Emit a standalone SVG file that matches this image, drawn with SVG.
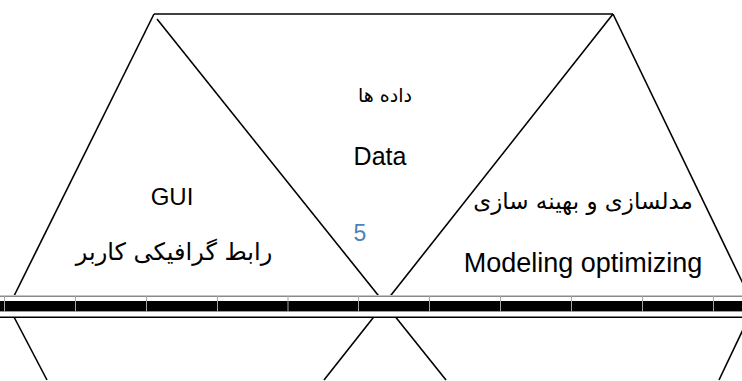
<svg xmlns="http://www.w3.org/2000/svg" width="742" height="381" viewBox="0 0 742 381">
<style>
.edge{stroke:#000;stroke-width:1.6;fill:none;stroke-linecap:butt}
.lat{font-family:"Liberation Sans",Arial,sans-serif;fill:#000}
.fa{font-family:"DejaVu Sans","Noto Sans",sans-serif;fill:#000}
.sep{stroke:#a6a6a6;stroke-width:1}
</style>
<rect width="742" height="381" fill="#fff"/>
<g id="connectors">
<line class="edge" x1="154" y1="14" x2="613" y2="14"/>
<line class="edge" x1="154" y1="14" x2="14" y2="296"/>
<line class="edge" x1="157" y1="19" x2="446" y2="380"/>
<line class="edge" x1="613" y1="14" x2="324" y2="380"/>
<line class="edge" x1="613" y1="14" x2="749" y2="296"/>
<line class="edge" x1="14" y1="317" x2="47" y2="380"/>
<line class="edge" x1="749" y1="317" x2="719" y2="380"/>
</g>
<g id="band">
<rect x="0" y="295" width="742" height="22" fill="#fff"/>
<line x1="0" y1="296.2" x2="742" y2="296.2" stroke="#8a8a8a" stroke-width="1.5"/>
<rect x="0" y="301" width="742" height="10" fill="#000"/>
<line x1="0" y1="311.5" x2="742" y2="311.5" stroke="#9a9a9a" stroke-width="1"/>
<line x1="0" y1="317.3" x2="742" y2="317.3" stroke="#000" stroke-width="1.5"/>
<g class="sep">
<line x1="4.5" y1="296" x2="4.5" y2="312"/>
<line x1="75.5" y1="296" x2="75.5" y2="312"/>
<line x1="146.5" y1="296" x2="146.5" y2="312"/>
<line x1="217.5" y1="296" x2="217.5" y2="312"/>
<line x1="288" y1="296" x2="288" y2="312"/>
<line x1="358.5" y1="296" x2="358.5" y2="312"/>
<line x1="429.5" y1="296" x2="429.5" y2="312"/>
<line x1="500.5" y1="296" x2="500.5" y2="312"/>
<line x1="571.5" y1="296" x2="571.5" y2="312"/>
<line x1="642.5" y1="296" x2="642.5" y2="312"/>
<line x1="713.5" y1="296" x2="713.5" y2="312"/>
</g>
</g>
<g id="node-gui">
<text class="lat" x="172" y="205" font-size="24" text-anchor="middle">GUI</text>
<text class="fa" x="174" y="260" font-size="24" text-anchor="middle" direction="rtl">رابط گرافیکی کاربر</text>
</g>
<g id="node-data">
<text class="fa" x="385" y="102" font-size="19" text-anchor="middle" direction="rtl">داده ها</text>
<text class="lat" x="380" y="165" font-size="25" text-anchor="middle">Data</text>
<text class="lat" x="360" y="241" font-size="23" text-anchor="middle" style="fill:#4f81bd">5</text>
</g>
<g id="node-modeling">
<text class="fa" x="583" y="209" font-size="23" text-anchor="middle" direction="rtl">مدلسازی و بهینه سازی</text>
<text class="lat" x="583" y="272" font-size="27" text-anchor="middle">Modeling optimizing</text>
</g>
</svg>
